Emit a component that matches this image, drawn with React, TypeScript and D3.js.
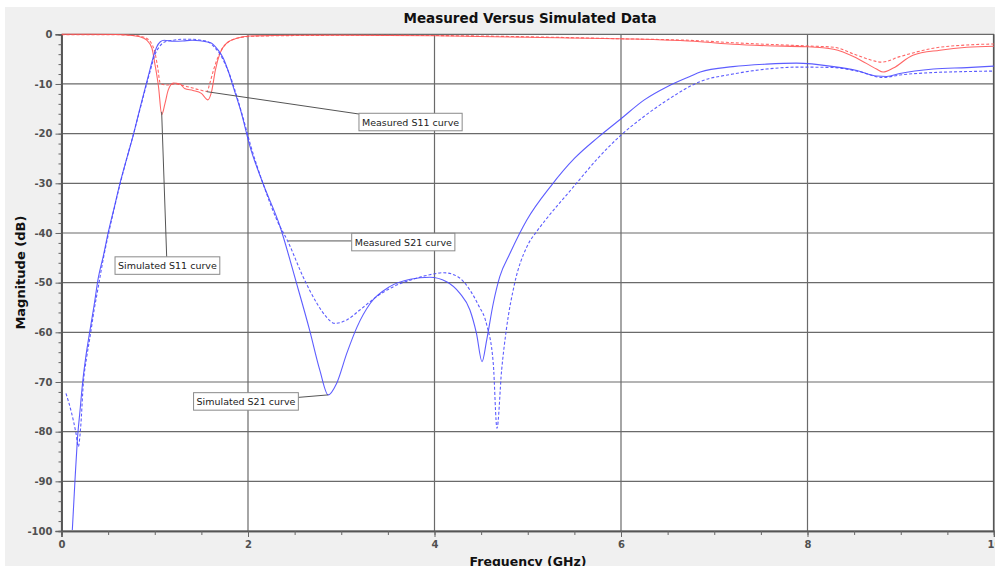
import React, { useRef, useEffect } from "react";
import * as d3 from "d3";

const chartTitle = "Measured Versus Simulated Data";
const xLabel = "Frequency (GHz)";
const yLabel = "Magnitude (dB)";
const xTicks = [0, 2, 4, 6, 8, 10];
const yTicks = [0, -10, -20, -30, -40, -50, -60, -70, -80, -90, -100];

// solid blue
const simS21Freq = [0.116, 0.145, 0.17, 0.2, 0.227, 0.26, 0.3, 0.35, 0.395, 0.45, 0.5, 0.56, 0.627, 0.7, 0.77, 0.84, 0.906, 0.95, 0.985, 1.02, 1.06, 1.1, 1.2, 1.3, 1.4, 1.485, 1.55, 1.61, 1.68, 1.735, 1.79, 1.84, 1.93, 2.02, 2.16, 2.34, 2.52, 2.66, 2.77, 2.86, 2.95, 3.06, 3.17, 3.31, 3.52, 3.74, 3.95, 4.13, 4.27, 4.38, 4.45, 4.51, 4.56, 4.63, 4.7, 4.81, 4.99, 5.25, 5.5, 5.75, 6.0, 6.25, 6.5, 6.75, 6.85, 7.2, 7.56, 7.88, 8.28, 8.53, 8.74, 8.85, 8.99, 9.35, 9.71, 10];
const simS21 = [-99.8, -89.7, -81.7, -75.5, -70, -65, -60.2, -54.5, -49, -44.5, -40, -35.3, -30, -25, -20.3, -15, -10.2, -7, -4.5, -2.6, -1.5, -1.2, -1.4, -1.35, -1.2, -1.3, -1.5, -1.8, -3.2, -4.8, -7.5, -10.5, -15.9, -22.5, -30, -38.5, -50.1, -59.5, -67.6, -72.6, -70.3, -64.2, -58.9, -54.2, -50.8, -49.3, -48.9, -49.8, -52.1, -55.5, -60.2, -65.9, -61.5, -54.2, -48.8, -44.1, -37.4, -30.5, -25, -20.8, -17, -13.2, -10.5, -8.4, -7.6, -6.5, -6.0, -5.8, -6.5, -7.3, -8.4, -8.5, -7.9, -7.0, -6.7, -6.4];

// dashed blue
const measS21Freq = [0.048, 0.109, 0.155, 0.18, 0.206, 0.234, 0.27, 0.306, 0.35, 0.395, 0.45, 0.5, 0.56, 0.63, 0.7, 0.78, 0.85, 0.92, 0.96, 1.0, 1.05, 1.1, 1.2, 1.3, 1.4, 1.5, 1.58, 1.65, 1.7, 1.76, 1.82, 1.88, 1.95, 2.03, 2.16, 2.31, 2.43, 2.59, 2.74, 2.84, 2.93, 3.06, 3.2, 3.38, 3.56, 3.74, 3.95, 4.1, 4.25, 4.38, 4.47, 4.56, 4.63, 4.67, 4.72, 4.77, 4.86, 4.99, 5.1, 5.19, 5.5, 5.75, 6.0, 6.25, 6.5, 6.85, 7.2, 7.56, 7.92, 8.28, 8.55, 8.81, 8.99, 9.35, 9.71, 10];
const measS21 = [-72.3, -76.3, -80.3, -83, -79, -70.3, -65, -60.9, -55.5, -50.8, -45, -40.5, -35.5, -30, -25, -19.5, -14.5, -9.5, -6.8, -4.2, -2.5, -1.6, -1.2, -1.0, -1.0, -1.2, -1.6, -2.8, -4.0, -6.2, -9, -12.5, -17, -22.5, -30, -37.4, -41.8, -48.8, -54.2, -56.9, -58.2, -57.5, -55.5, -52.8, -50.8, -49.5, -48.4, -48.0, -48.8, -51.5, -54.5, -58.5, -66.2, -79.3, -67.6, -59.5, -50.1, -42.8, -39.6, -37.4, -30.5, -25, -20.3, -16.5, -13.2, -9.5, -8.0, -7.0, -6.6, -6.7, -7.5, -8.7, -8.2, -7.7, -7.5, -7.4];

// solid red
const simS11Freq = [0, 0.3, 0.6, 0.7, 0.84, 0.91, 0.97, 1.0, 1.04, 1.075, 1.11, 1.145, 1.2, 1.27, 1.32, 1.41, 1.5, 1.57, 1.61, 1.65, 1.7, 1.77, 1.88, 2.02, 2.5, 3, 4, 5, 6, 6.85, 7.2, 7.56, 7.99, 8.28, 8.53, 8.74, 8.81, 8.92, 9.13, 9.42, 9.71, 10];
const simS11 = [0, 0, -0.05, -0.15, -0.5, -1.1, -2.8, -5.8, -10.5, -16.2, -13.9, -11.2, -9.8, -10.0, -10.9, -11.3, -11.9, -13.2, -11.5, -7.2, -3.8, -1.8, -0.8, -0.35, -0.2, -0.2, -0.3, -0.6, -0.9, -1.5, -2.0, -2.3, -2.5, -3.0, -4.8, -7.0, -7.6, -6.8, -4.2, -3.2, -2.6, -2.4];

// dashed red
const measS11Freq = [0, 0.3, 0.6, 0.75, 0.85, 0.92, 0.97, 1.0, 1.03, 1.06, 1.13, 1.22, 1.34, 1.485, 1.56, 1.59, 1.63, 1.68, 1.75, 1.88, 2.04, 2.5, 3, 4, 5, 6, 6.85, 7.2, 8.0, 8.28, 8.53, 8.8, 8.99, 9.35, 9.71, 10];
const measS11 = [-0.1, -0.1, -0.1, -0.2, -0.4, -0.9, -2.0, -3.5, -6.5, -9.9, -10.2, -10.0, -10.5, -11.2, -11.5, -9.9, -7.2, -4.5, -2.2, -0.8, -0.4, -0.25, -0.2, -0.25, -0.5, -0.9, -1.3, -1.7, -2.35, -2.6, -4.2, -5.6, -4.5, -2.8, -2.15, -1.95];

const noteLabels = ["Measured S11 curve", "Measured S21 curve", "Simulated S21 curve", "Simulated S11 curve"];
const notePoints = [[1.557, -11.55], [2.43, -41.6], [2.86, -72.6], [1.074, -15.6]];
const noteEnds = [[3.19, -16.05], [3.112, -41.6], [2.54, -73.1], [1.128, -44.8]];
const noteBoxes = [[3.19, -15.9, "start"], [3.112, -40.07, "start"], [2.54, -72.15, "end"], [0.574, -44.8, "start"]];

const ResponseChart = () => {
  const svgRef = useRef<SVGSVGElement>(null);

  useEffect(() => {
    const svg = d3.select(svgRef.current);
    svg.selectAll("*").remove();

    const width = 995;
    const height = 566;
    const plot = { left: 61.5, right: 994, top: 34.3, bottom: 531 };

    const x = d3.scaleLinear().domain([0, 10]).range([plot.left, plot.right]);
    const y = d3.scaleLinear().domain([-100, 0]).range([plot.bottom, plot.top]);

    // panel background
    svg.append("rect").attr("width", width).attr("height", height).attr("fill", "#fff");
    svg.append("rect").attr("x", 5).attr("y", 7).attr("width", width - 5).attr("height", height - 7).attr("fill", "#f0f0f0");
    svg.append("rect")
      .attr("x", plot.left).attr("y", plot.top)
      .attr("width", plot.right - plot.left).attr("height", plot.bottom - plot.top)
      .attr("fill", "#fff");

    // grid
    const grid = svg.append("g").attr("stroke", "#6a6a6a").attr("stroke-width", 1.2);
    xTicks.forEach((t) => {
      grid.append("line").attr("x1", x(t)).attr("x2", x(t)).attr("y1", plot.top).attr("y2", plot.bottom);
    });
    yTicks.forEach((t) => {
      grid.append("line").attr("x1", plot.left).attr("x2", plot.right).attr("y1", y(t)).attr("y2", y(t));
    });

    // axes
    const yAxis = svg.append("g").attr("transform", `translate(${plot.left},0)`)
      .call(d3.axisLeft(y).tickValues(yTicks).tickSize(6).tickPadding(3).tickFormat((d) => String(d)));
    svg.append("g").attr("transform", `translate(${plot.left},0)`)
      .call(d3.axisLeft(y).ticks(50).tickSize(3).tickFormat(() => ""));
    const xAxis = svg.append("g").attr("transform", `translate(0,${plot.bottom})`)
      .call(d3.axisBottom(x).tickValues(xTicks).tickSize(6).tickPadding(4));
    svg.append("g").attr("transform", `translate(0,${plot.bottom})`)
      .call(d3.axisBottom(x).ticks(20).tickSize(4).tickFormat(() => ""));

    svg.selectAll(".domain").attr("stroke", "#555").attr("stroke-width", 1.6);
    svg.selectAll(".tick line").attr("stroke", "#666");
    [yAxis, xAxis].forEach((a) =>
      a.selectAll("text")
        .attr("font-family", "DejaVu Sans")
        .attr("font-weight", "bold")
        .attr("font-size", 10)
        .attr("fill", "#505050")
    );

    // right border
    svg.append("line").attr("x1", plot.right - 0.5).attr("x2", plot.right - 0.5)
      .attr("y1", plot.top).attr("y2", plot.bottom).attr("stroke", "#555").attr("stroke-width", 1.2);

    // curves
    svg.append("clipPath").attr("id", "plot-clip").append("rect")
      .attr("x", plot.left).attr("y", plot.top - 2)
      .attr("width", plot.right - plot.left).attr("height", plot.bottom - plot.top + 2);

    const line = d3.line<[number, number]>()
      .x((d) => x(d[0]))
      .y((d) => y(d[1]))
      .curve(d3.curveMonotoneX);

    const series = [
      { f: simS11Freq, v: simS11, color: "#ff5555", dash: null },
      { f: measS11Freq, v: measS11, color: "#ff5555", dash: "3,2" },
      { f: measS21Freq, v: measS21, color: "#4b4bff", dash: "3,2" },
      { f: simS21Freq, v: simS21, color: "#4b4bff", dash: null },
    ];
    const curves = svg.append("g").attr("clip-path", "url(#plot-clip)");
    series.forEach((s) => {
      const pts = s.f.map((f, i) => [f, s.v[i]] as [number, number]);
      curves.append("path")
        .datum(pts)
        .attr("fill", "none")
        .attr("stroke", s.color)
        .attr("stroke-width", 1.1)
        .attr("stroke-opacity", 0.9)
        .attr("stroke-dasharray", s.dash)
        .attr("d", line);
    });

    // annotations
    const notes = svg.append("g");
    noteLabels.forEach((label, i) => {
      const [pf, pv] = notePoints[i];
      const [ef, ev] = noteEnds[i];
      const [bf, bv, align] = noteBoxes[i] as [number, number, string];
      notes.append("line")
        .attr("x1", x(pf)).attr("y1", y(pv)).attr("x2", x(ef)).attr("y2", y(ev))
        .attr("stroke", "#555").attr("stroke-width", 1);
      const g = notes.append("g");
      const rect = g.append("rect");
      const text = g.append("text")
        .attr("font-family", "DejaVu Sans")
        .attr("font-size", 9.5)
        .attr("fill", "#222")
        .text(label);
      const tw = (text.node() as SVGTextElement).getComputedTextLength();
      const bw = tw + 6;
      const bx = align === "end" ? x(bf) - bw : x(bf);
      const by = y(bv);
      rect.attr("x", bx).attr("y", by).attr("width", bw).attr("height", 17.5)
        .attr("fill", "#fff").attr("stroke", "#8a8a8a").attr("stroke-width", 1);
      text.attr("x", bx + 3).attr("y", by + 12.5);
    });

    // titles
    svg.append("text")
      .attr("x", 530).attr("y", 23)
      .attr("text-anchor", "middle")
      .attr("font-family", "DejaVu Sans").attr("font-weight", "bold").attr("font-size", 13.5)
      .attr("fill", "#111")
      .text(chartTitle);
    svg.append("text")
      .attr("x", 528).attr("y", 566)
      .attr("text-anchor", "middle")
      .attr("font-family", "DejaVu Sans").attr("font-weight", "bold").attr("font-size", 12.5)
      .attr("fill", "#111")
      .text(xLabel);
    svg.append("text")
      .attr("transform", `translate(25,${(plot.top + plot.bottom) / 2 - 10}) rotate(-90)`)
      .attr("text-anchor", "middle")
      .attr("font-family", "DejaVu Sans").attr("font-weight", "bold").attr("font-size", 13)
      .attr("fill", "#111")
      .text(yLabel);
  }, []);

  return (
    <svg
      ref={svgRef}
      width={995}
      height={566}
      style={{ position: "absolute", left: 0, top: 0 }}
    ></svg>
  );
};

export default function App() {
  return <ResponseChart />;
}
